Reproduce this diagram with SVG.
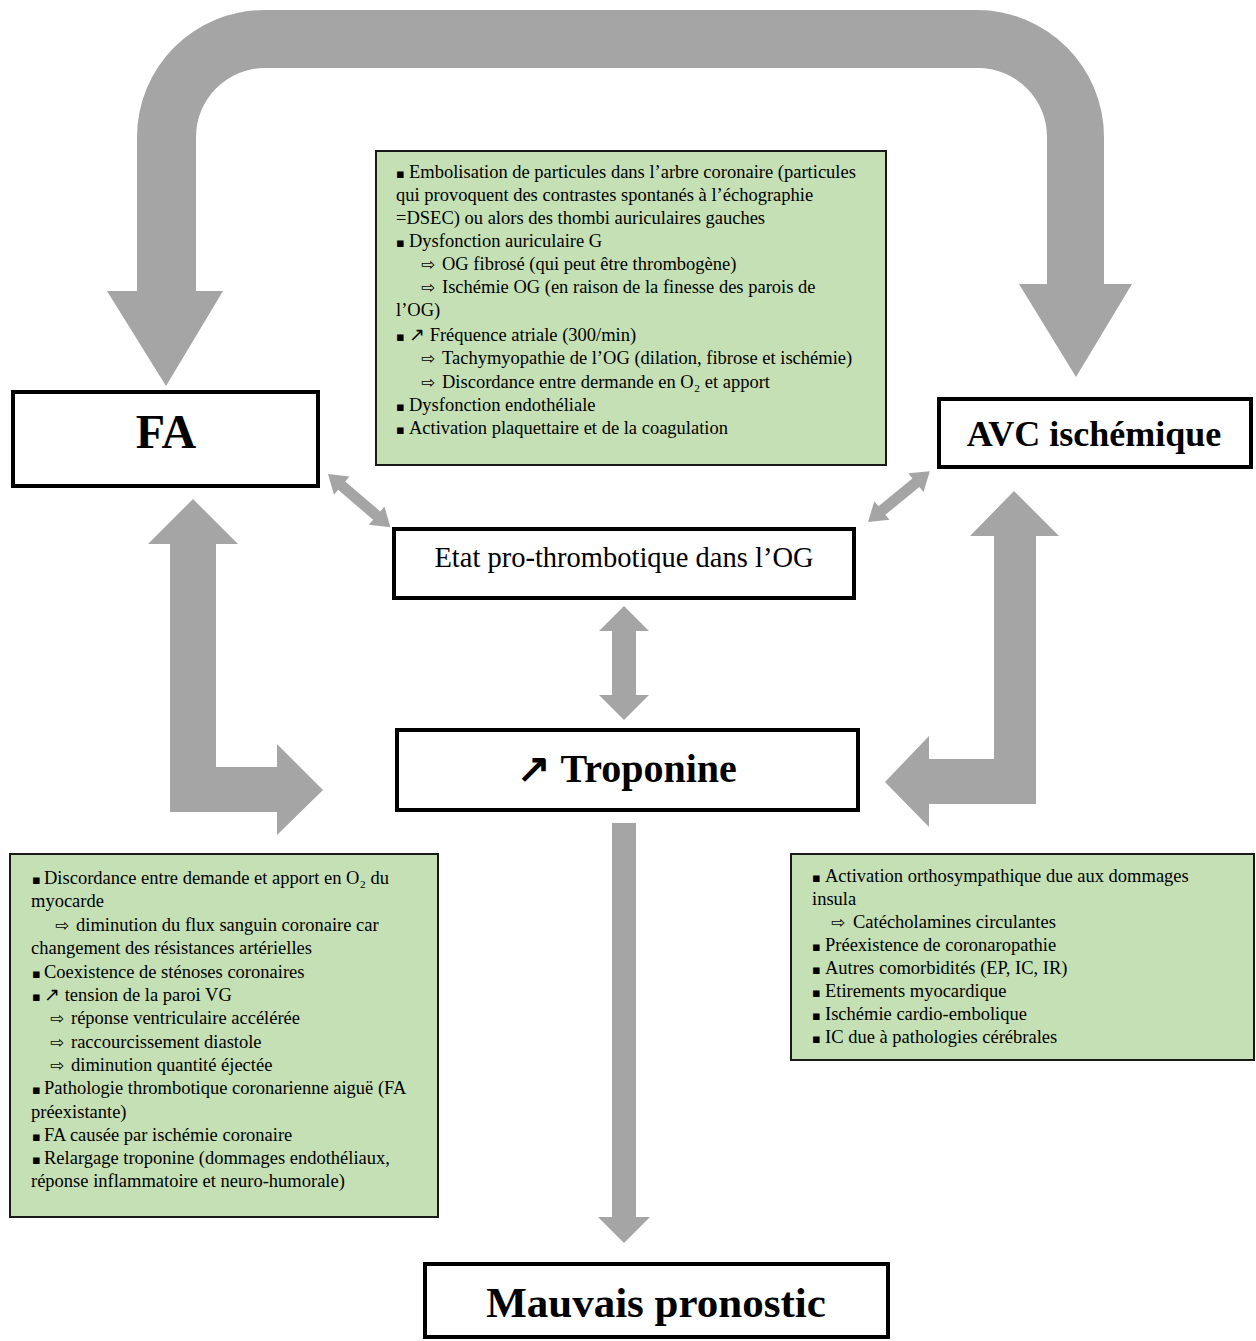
<svg xmlns="http://www.w3.org/2000/svg" width="1256" height="1341" viewBox="0 0 1256 1341">
<style>
.arrow{fill:#A5A5A5;stroke:none}
.node{fill:#FFFFFF;stroke:#000;stroke-width:4}
.note{fill:#C5E0B4;stroke:#1a1a1a;stroke-width:2}
.t{font-family:"Liberation Serif","Times New Roman",serif;fill:#000}
.nt{font-size:18.5px}
.b{font-weight:bold}
.sym{font-family:"DejaVu Sans",sans-serif;font-size:13px}
.arr{font-family:"DejaVu Sans",sans-serif;font-size:17px}
</style>
<rect width="1256" height="1341" fill="#FFFFFF"/>
<g id="connectors">
<path class="arrow" d="M107,291 L137,291 L137,137 A127,127 0 0 1 264,10 L977,10 A127,127 0 0 1 1104,137 L1104,284 L1132,284 L1076,377 L1019,284 L1047,284 L1047,137 A69,69 0 0 0 978,68 L265,68 A69,69 0 0 0 196,137 L196,291 L223,291 L166,386 Z"/>
<path class="arrow" d="M193,499 L238,544 L216,544 L216,767 L277,767 L277,744 L323,790 L277,835 L277,812 L170,812 L170,544 L148,544 Z"/>
<path class="arrow" d="M1014,491 L1059,536 L1036,536 L1036,804 L929,804 L929,827 L885,782 L929,736 L929,759 L994,759 L994,536 L970,536 Z"/>
<path class="arrow" d="M624,606 L649,631 L636,631 L636,695 L649,695 L624,720 L599,695 L612,695 L612,631 L599,631 Z"/>
<path class="arrow" d="M612,823 L636,823 L636,1217 L650,1217 L624,1243 L598,1217 L612,1217 Z"/>
<path class="arrow" transform="translate(328,474) rotate(40.5)" d="M0,0 L18,-12 L18,-5.5 L64,-5.5 L64,-12 L82,0 L64,12 L64,5.5 L18,5.5 L18,12 Z"/>
<path class="arrow" transform="translate(868,522) rotate(-39.4)" d="M0,0 L18,-12 L18,-5.5 L62,-5.5 L62,-12 L80,0 L62,12 L62,5.5 L18,5.5 L18,12 Z"/>
</g>
<g id="fa">
<rect class="node" x="13" y="392" width="305" height="94"/>
<text class="t b" x="166" y="448" font-size="48" text-anchor="middle">FA</text>
</g>
<g id="avc">
<rect class="node" x="939" y="399" width="312" height="68"/>
<text class="t b" x="1094" y="446" font-size="36" text-anchor="middle">AVC ischémique</text>
</g>
<g id="etat">
<rect class="node" x="394" y="529" width="460" height="69"/>
<text class="t" x="624" y="567" font-size="28.5" text-anchor="middle">Etat pro-thrombotique dans l’OG</text>
</g>
<g id="troponine">
<rect class="node" x="397" y="730" width="461" height="80"/>
<text class="t b" x="627" y="782" font-size="40" text-anchor="middle">↗ Troponine</text>
</g>
<g id="mauvais">
<rect class="node" x="425" y="1264" width="463" height="73"/>
<text class="t b" x="656" y="1317" font-size="43" text-anchor="middle">Mauvais pronostic</text>
</g>
<g id="note-top">
<rect class="note" x="376" y="151" width="510" height="314"/>
<text class="t nt">
<tspan class="sym" x="396" y="178">▪</tspan><tspan x="409" y="178">Embolisation de particules dans l’arbre coronaire (particules</tspan>
<tspan x="396" y="201">qui provoquent des contrastes spontanés à l’échographie</tspan>
<tspan x="396" y="224">=DSEC) ou alors des thombi auriculaires gauches</tspan>
<tspan class="sym" x="396" y="247">▪</tspan><tspan x="409" y="247">Dysfonction auriculaire G</tspan>
<tspan class="arr" x="421" y="270">⇨</tspan><tspan x="442" y="270">OG fibrosé (qui peut être thrombogène)</tspan>
<tspan class="arr" x="421" y="293">⇨</tspan><tspan x="442" y="293">Ischémie OG (en raison de la finesse des parois de</tspan>
<tspan x="396" y="316">l’OG)</tspan>
<tspan class="sym" x="396" y="341">▪</tspan><tspan x="409" y="341">↗ Fréquence atriale (300/min)</tspan>
<tspan class="arr" x="421" y="364">⇨</tspan><tspan x="442" y="364">Tachymyopathie de l’OG (dilation, fibrose et ischémie)</tspan>
<tspan class="arr" x="421" y="388">⇨</tspan><tspan x="442" y="388">Discordance entre dermande en O₂ et apport</tspan>
<tspan class="sym" x="396" y="411">▪</tspan><tspan x="409" y="411">Dysfonction endothéliale</tspan>
<tspan class="sym" x="396" y="434">▪</tspan><tspan x="409" y="434">Activation plaquettaire et de la coagulation</tspan>
</text>
</g>
<g id="note-left">
<rect class="note" x="10" y="854" width="428" height="363"/>
<text class="t nt">
<tspan class="sym" x="32" y="884">▪</tspan><tspan x="44" y="884">Discordance entre demande et apport en O₂ du</tspan>
<tspan x="31" y="907">myocarde</tspan>
<tspan class="arr" x="55" y="931">⇨</tspan><tspan x="76" y="931">diminution du flux sanguin coronaire car</tspan>
<tspan x="31" y="954">changement des résistances artérielles</tspan>
<tspan class="sym" x="32" y="978">▪</tspan><tspan x="44" y="978">Coexistence de sténoses coronaires</tspan>
<tspan class="sym" x="32" y="1001">▪</tspan><tspan x="44" y="1001">↗ tension de la paroi VG</tspan>
<tspan class="arr" x="50" y="1024">⇨</tspan><tspan x="71" y="1024">réponse ventriculaire accélérée</tspan>
<tspan class="arr" x="50" y="1048">⇨</tspan><tspan x="71" y="1048">raccourcissement diastole</tspan>
<tspan class="arr" x="50" y="1071">⇨</tspan><tspan x="71" y="1071">diminution quantité éjectée</tspan>
<tspan class="sym" x="32" y="1094">▪</tspan><tspan x="44" y="1094">Pathologie thrombotique coronarienne aiguë (FA</tspan>
<tspan x="31" y="1118">préexistante)</tspan>
<tspan class="sym" x="32" y="1141">▪</tspan><tspan x="44" y="1141">FA causée par ischémie coronaire</tspan>
<tspan class="sym" x="32" y="1164">▪</tspan><tspan x="44" y="1164">Relargage troponine (dommages endothéliaux,</tspan>
<tspan x="31" y="1187">réponse inflammatoire et neuro-humorale)</tspan>
</text>
</g>
<g id="note-right">
<rect class="note" x="791" y="854" width="463" height="206"/>
<text class="t nt">
<tspan class="sym" x="812" y="882">▪</tspan><tspan x="825" y="882">Activation orthosympathique due aux dommages</tspan>
<tspan x="812" y="905">insula</tspan>
<tspan class="arr" x="831" y="928">⇨</tspan><tspan x="853" y="928">Catécholamines circulantes</tspan>
<tspan class="sym" x="812" y="951">▪</tspan><tspan x="825" y="951">Préexistence de coronaropathie</tspan>
<tspan class="sym" x="812" y="974">▪</tspan><tspan x="825" y="974">Autres comorbidités (EP, IC, IR)</tspan>
<tspan class="sym" x="812" y="997">▪</tspan><tspan x="825" y="997">Etirements myocardique</tspan>
<tspan class="sym" x="812" y="1020">▪</tspan><tspan x="825" y="1020">Ischémie cardio-embolique</tspan>
<tspan class="sym" x="812" y="1043">▪</tspan><tspan x="825" y="1043">IC due à pathologies cérébrales</tspan>
</text>
</g>
</svg>
